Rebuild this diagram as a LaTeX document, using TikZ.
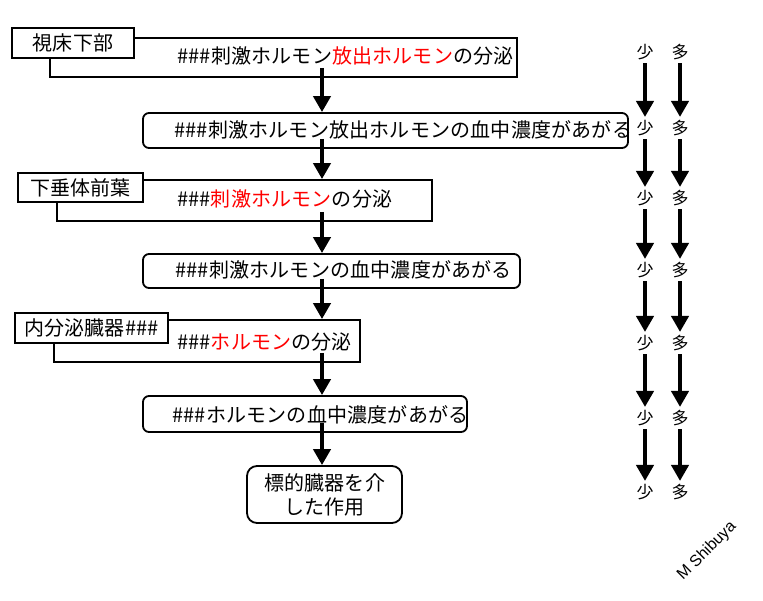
\documentclass[tikz,border=0pt]{standalone}
\usepackage{fontspec}
\newfontfamily\jp{Noto Sans CJK JP}[LetterSpace=1]
\newfontfamily\lat{Liberation Sans}
\usetikzlibrary{arrows.meta}

\begin{document}
\begin{tikzpicture}[x=1pt, y=-1pt,
	box/.style={draw, line width=1.8pt, inner sep=0pt},
	labelbox/.style={box, fill=white, font=\jp\fontsize{20}{22}\selectfont},
	roundbox/.style={box, rounded corners=6pt},
	txt/.style={font=\jp\fontsize{20}{22}\selectfont, inner sep=0pt, anchor=west},
	amount/.style={font=\jp\fontsize{17}{20}\selectfont, inner sep=3pt},
	arr/.style={line width=4pt, -{Triangle[width=17pt, length=16pt]}}]

	\useasboundingbox (0,0) rectangle (763,600);

	% hypothalamus
	\node[box, minimum width=467, minimum height=39] (hypo) at (283.5,57.5) {};
	\node[labelbox, minimum width=122, minimum height=30] (hypolabel) at (73,43) {視床下部};
	\node[txt] (hypotext) at (177,56) {\#\#\#刺激ホルモン\textcolor{red}{放出ホルモン}の分泌};

	% releasing hormone in blood
	\node[roundbox, minimum width=485, minimum height=35] (relblood) at (385.5,130.5) {};
	\node[txt] (relbloodtext) at (174,130) {\#\#\#刺激ホルモン放出ホルモンの血中濃度があがる};

	% anterior pituitary
	\node[box, minimum width=375, minimum height=41] (pit) at (244.5,200.5) {};
	\node[labelbox, minimum width=125, minimum height=29] (pitlabel) at (80.5,187.5) {下垂体前葉};
	\node[txt] (pittext) at (177,199) {\#\#\#\textcolor{red}{刺激ホルモン}の分泌};

	% stimulating hormone in blood
	\node[roundbox, minimum width=377, minimum height=34] (stimblood) at (331.5,271) {};
	\node[txt] (stimbloodtext) at (175,270) {\#\#\#刺激ホルモンの血中濃度があがる};

	% endocrine organ
	\node[box, minimum width=306, minimum height=42] (organ) at (207,341) {};
	\node[labelbox, minimum width=153, minimum height=30] (organlabel) at (91.5,328) {内分泌臓器\#\#\#};
	\node[txt] (organtext) at (177,342) {\#\#\#\textcolor{red}{ホルモン}の分泌};

	% hormone in blood
	\node[roundbox, minimum width=324, minimum height=36] (hormblood) at (305,414) {};
	\node[txt] (hormbloodtext) at (172,415) {\#\#\#ホルモンの血中濃度があがる};

	% target organ
	\node[roundbox, rounded corners=10pt, minimum width=155, minimum height=57, align=center,
		font=\jp\fontsize{20}{24}\selectfont] (target) at (324.5,494.5) {標的臓器を介\\した作用};

	% draw main flow
	\coordinate (col) at (322,0);
	\foreach \a/\b in {hypo/relblood, relblood/pit, pit/stimblood, stimblood/organ, organ/hormblood, hormblood/target}
	{
		\draw[arr] ([yshift=10pt]\a.south -| col) -- (\b.north -| col);
	}

	% draw amounts
	\foreach \r/\y in {0/52, 1/128, 2/198, 3/270, 4/343, 5/418, 6/492}
	{
		\node[amount] (few\r) at (645,\y) {少};
		\node[amount] (many\r) at (680,\y) {多};
	}
	\foreach \r in {0,...,5}
	{
		\pgfmathtruncatemacro{\n}{\r+1}
		\draw[arr] (few\r) -- (few\n);
		\draw[arr] (many\r) -- (many\n);
	}

	\node[rotate=45, font=\lat\fontsize{16}{18}\selectfont] (author) at (707,551) {M Shibuya};

\end{tikzpicture}
\end{document}
